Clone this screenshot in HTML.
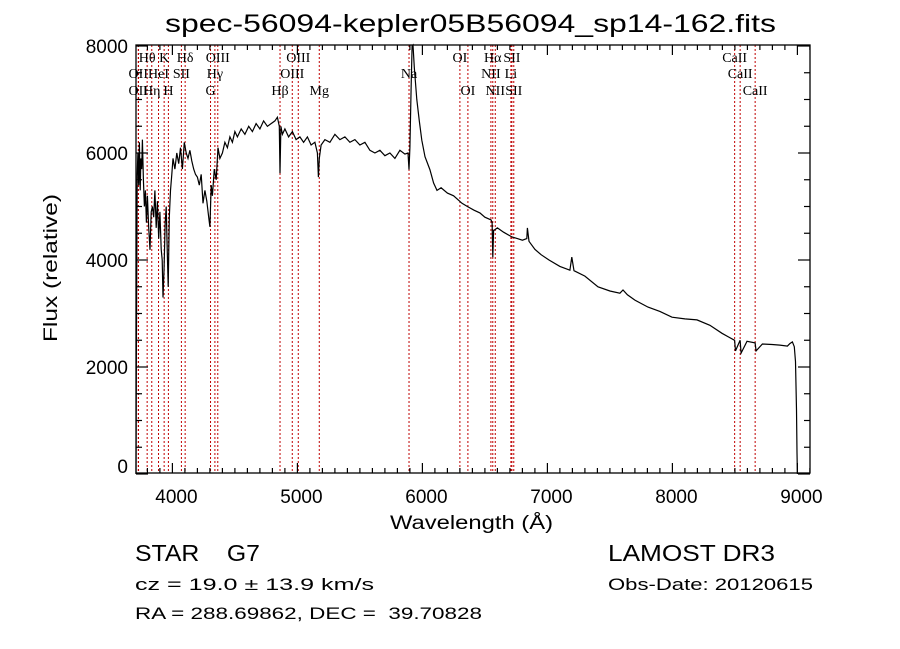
<!DOCTYPE html>
<html><head><meta charset="utf-8"><style>
html,body{margin:0;padding:0;background:#fff;}
svg{display:block;}
text{font-family:"Liberation Sans",sans-serif;fill:#000;white-space:pre;}
.ser{font-family:"Liberation Serif",serif;}
</style></head><body>
<svg id="chart" width="900" height="649" viewBox="0 0 900 649" xmlns="http://www.w3.org/2000/svg" xml:space="preserve">
<rect width="900" height="649" fill="#fff"/>
<text x="165" y="32" font-size="25" textLength="611" lengthAdjust="spacingAndGlyphs">spec-56094-kepler05B56094_sp14-162.fits</text>
<g id="lines"></g>
<g id="labels"></g>
<path id="spec" fill="none" stroke="#000" stroke-width="1.2"/>
<rect x="136" y="45" width="674" height="428" fill="none" stroke="#000" stroke-width="1.3"/>
<g id="ticks" stroke="#000" stroke-width="1.2"></g>
<g id="ticklabels"></g>
<text x="390" y="529" font-size="19" textLength="163" lengthAdjust="spacingAndGlyphs">Wavelength (Å)</text>
<text transform="translate(57,342) rotate(-90)" font-size="19" textLength="148" lengthAdjust="spacingAndGlyphs">Flux (relative)</text>
<text x="135" y="561" font-size="23" textLength="125" lengthAdjust="spacingAndGlyphs">STAR    G7</text>
<text x="608" y="561" font-size="23" textLength="167" lengthAdjust="spacingAndGlyphs">LAMOST DR3</text>
<text x="135" y="590" font-size="17" textLength="239" lengthAdjust="spacingAndGlyphs">cz = 19.0 ± 13.9 km/s</text>
<text x="608" y="590" font-size="17" textLength="205" lengthAdjust="spacingAndGlyphs">Obs-Date: 20120615</text>
<text x="135" y="619" font-size="17" textLength="347" lengthAdjust="spacingAndGlyphs">RA = 288.69862, DEC =  39.70828</text>
</svg>
<script>
const wavelengths=[3709,3712,3718,3724,3730,3736,3742,3748,3754,3760,3768,3776,3784,3792,3800,3810,3821,3830,3840,3850,3860,3870,3880,3890,3900,3910,3918,3925,3933,3942,3950,3958,3966,3975,3985,3995,4005,4020,4035,4050,4065,4080,4095,4110,4125,4140,4155,4170,4185,4200,4215,4230,4245,4260,4275,4290,4300,4310,4320,4335,4350,4365,4380,4400,4420,4440,4460,4480,4500,4520,4550,4580,4610,4640,4670,4700,4730,4760,4790,4820,4840,4855,4861,4868,4880,4900,4930,4960,4990,5020,5050,5080,5110,5140,5160,5168,5175,5190,5220,5260,5300,5340,5380,5420,5460,5500,5540,5580,5620,5660,5700,5740,5780,5820,5860,5885,5893,5900,5910,5918,5925,5935,5955,5975,5995,6021,6060,6090,6117,6150,6200,6250,6317,6360,6413,6460,6500,6550,6558,6563,6570,6600,6650,6717,6760,6800,6835,6840,6853,6900,6950,7013,7100,7180,7195,7213,7300,7405,7500,7580,7605,7640,7700,7805,7900,7997,8100,8197,8300,8397,8450,8498,8505,8542,8550,8597,8662,8670,8720,8797,8860,8920,8941,8960,8975,8985,8993,8997,9000];
const fluxValues=[0,2400,5600,6000,5400,6200,5300,5900,5700,6250,5500,5000,5300,4700,5200,4600,4190,4900,5000,4800,5300,4600,5100,4400,4900,4200,4000,3300,3800,4700,5000,4200,3500,4800,5300,5600,5900,5700,6000,5800,6100,5700,6200,6000,5900,6050,5850,5700,5600,5550,5400,5600,5060,5300,5100,4800,4620,5400,5200,5700,5500,6100,5900,6000,6200,6100,6300,6200,6400,6300,6450,6350,6500,6400,6550,6450,6600,6500,6550,6600,6670,6500,5620,6500,6350,6450,6300,6400,6250,6300,6200,6300,6150,6200,6000,5550,5900,6150,6250,6200,6350,6250,6300,6200,6250,6150,6200,6050,6000,6050,5950,6000,5900,6050,5980,6000,5690,6100,7200,8000,8100,7600,7000,6600,6240,5930,5690,5440,5300,5350,5250,5200,5060,5000,4930,4880,4800,4750,4700,4050,4550,4600,4520,4430,4400,4370,4400,4600,4350,4200,4100,4000,3880,3810,4055,3800,3700,3500,3420,3380,3440,3350,3250,3120,3040,2930,2900,2880,2780,2630,2560,2500,2300,2500,2260,2480,2450,2300,2430,2420,2410,2390,2440,2470,2380,2100,1200,400,0,0];
const tickX=[4000,5000,6000,7000,8000,9000];
const tickXLabels=["4000","5000","6000","7000","8000","9000"];
const tickY=[0,2000,4000,6000,8000];
const tickYLabels=["0","2000","4000","6000","8000"];
const lineWaves=[3727,3729,3798,3835,3889,3934,3968,4072,4102,4305,4340,4363,4861,4959,5007,5175,5893,6300,6364,6548,6563,6583,6708,6716,6731,8498,8542,8662];
const labelNames=["Hθ","K","Hδ","OIII","OIII","OI","Hα","SII","CaII","OII","HeI","SII","Hγ","OIII","Na","NII","Li","CaII","OII","Hη","H","G","Hβ","Mg","OI","NII","SII","CaII"];
const labelWaves=[3798,3934,4102,4363,5007,6300,6563,6716,8498,3727,3889,4072,4340,4959,5893,6548,6708,8542,3727,3835,3968,4305,4861,5175,6364,6583,6731,8662];
const labelRows=[0,0,0,0,0,0,0,0,0,1,1,1,1,1,1,1,1,1,2,2,2,2,2,2,2,2,2,2];
const NS="http://www.w3.org/2000/svg";
const X0=136,X1=810,Y0=473,Y1=45;
function xs(l){return 172.4+(l-4000)*0.125;}
function ys(f){return 474-f*(428/8000);}
function mk(tag,attrs,parent){const e=document.createElementNS(NS,tag);for(const k in attrs)e.setAttribute(k,attrs[k]);parent.appendChild(e);return e;}
let d="";
for(let i=0;i<wavelengths.length;i++){d+=(i?"L":"M")+xs(wavelengths[i]).toFixed(1)+" "+Math.max(Y1,ys(fluxValues[i])).toFixed(1);}
document.getElementById("spec").setAttribute("d",d);
const lg=document.getElementById("lines");
for(const w of lineWaves){const x=xs(w);
 const ln=mk("line",{x1:x,x2:x,y1:Y1,y2:Y0,stroke:"#c00000","stroke-width":1,"stroke-dasharray":"2,2"},lg);
 
 }
const lb=document.getElementById("labels");
const rowY=[62,78,95];
for(let i=0;i<labelNames.length;i++){
 const t=mk("text",{x:xs(labelWaves[i]),y:rowY[labelRows[i]],"font-size":14,"text-anchor":"middle",class:"ser"},lb);
 t.textContent=labelNames[i];
 
 }
const tg=document.getElementById("ticks");
for(let l=3800;l<=9100;l+=100){const x=xs(l);if(x<X0||x>X1)continue;const len=(l%1000===0)?10:5;
 mk("line",{x1:x,x2:x,y1:Y0,y2:Y0-len},tg);mk("line",{x1:x,x2:x,y1:Y1,y2:Y1+len},tg);}
for(let f=0;f<=8000;f+=500){const y=ys(f);if(y<Y1)continue;const len=(f%2000===0)?12:6;
 mk("line",{x1:X0,x2:X0+len,y1:y,y2:y},tg);mk("line",{x1:X1,x2:X1-len,y1:y,y2:y},tg);}
const tl=document.getElementById("ticklabels");
for(let i=0;i<tickX.length;i++){const t=mk("text",{x:xs(tickX[i])+4,y:503,"font-size":19,"text-anchor":"middle"},tl);t.textContent=tickXLabels[i];
 
 }
for(let i=0;i<tickY.length;i++){const t=mk("text",{x:128,y:Math.min(ys(tickY[i])+7,473),"font-size":19,"text-anchor":"end"},tl);t.textContent=tickYLabels[i];
 
 }
</script>
</body></html>
